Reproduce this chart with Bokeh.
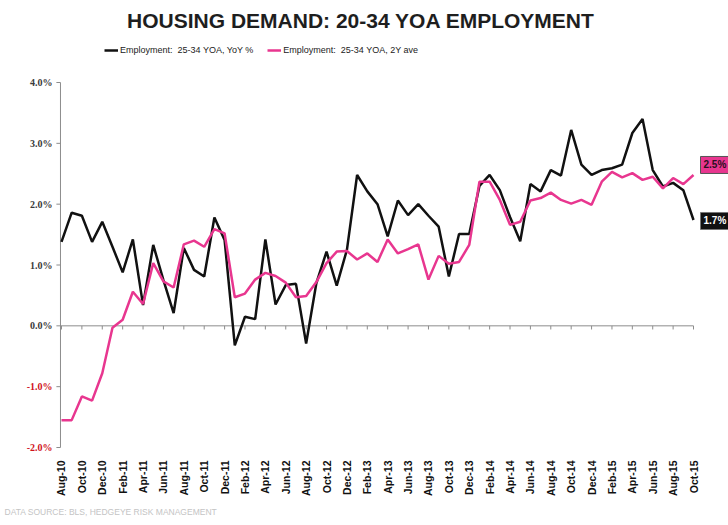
import math
import pandas as pd
from bokeh.plotting import figure
from bokeh.models import (Range1d, FixedTicker, Label, LabelSet, Title,
                          ColumnDataSource, Legend, LegendItem)
from bokeh.embed import file_html
from bokeh.resources import INLINE

# ---------------- data ----------------
months = list(pd.date_range("2010-08-01", periods=63, freq="MS").strftime("%b-%y"))

employment_yoy = [1.38, 1.86, 1.81, 1.38, 1.71, 1.30, 0.88, 1.42, 0.34, 1.33,
                  0.75, 0.21, 1.28, 0.92, 0.81, 1.78, 1.41, -0.32, 0.15, 0.11,
                  1.42, 0.35, 0.67, 0.69, -0.29, 0.70, 1.22, 0.66, 1.25, 2.48,
                  2.21, 2.00, 1.47, 2.06, 1.82, 2.00, 1.81, 1.63, 0.81, 1.51,
                  1.51, 2.30, 2.48, 2.23, 1.79, 1.39, 2.33, 2.21, 2.56, 2.47,
                  3.22, 2.65, 2.48, 2.56, 2.59, 2.65, 3.17, 3.40, 2.56, 2.29,
                  2.35, 2.23, 1.74]

employment_2y = [-1.55, -1.55, -1.16, -1.23, -0.78, -0.03, 0.10, 0.56, 0.36, 1.03,
                 0.73, 0.63, 1.34, 1.40, 1.30, 1.59, 1.52, 0.47, 0.53, 0.76,
                 0.87, 0.82, 0.71, 0.47, 0.49, 0.72, 1.03, 1.22, 1.23, 1.09,
                 1.19, 1.05, 1.42, 1.19, 1.26, 1.34, 0.76, 1.15, 1.02, 1.05,
                 1.33, 2.37, 2.37, 2.07, 1.66, 1.71, 2.06, 2.10, 2.19, 2.07,
                 2.01, 2.07, 1.99, 2.37, 2.53, 2.44, 2.51, 2.40, 2.45, 2.26,
                 2.43, 2.33, 2.48]

y_ticks = [-2, -1, 0, 1, 2, 3, 4]
y_tick_labels = ["-2.0%", "-1.0%", "0.0%", "1.0%", "2.0%", "3.0%", "4.0%"]

title_text = "HOUSING DEMAND:  20-34 YOA EMPLOYMENT"
series_names = ["Employment:  25-34 YOA, YoY %", "Employment:  25-34 YOA, 2Y ave"]
source_text = "DATA SOURCE: BLS, HEDGEYE RISK MANAGEMENT"

# ---------------- styling ----------------
BLACK = "#111111"
PINK = "#e8368f"
GRAY = "#8c8c8c"
SANS = "Liberation Sans"

idx = list(range(len(months)))
label_idx = idx[::2]

W, H = 728, 525
# frame spans the full width; the value axis is drawn at x = AX
X0, X1 = -5.984, 65.433
Y0, Y1 = -2.0986, 5.348
AX = -0.1

p = figure(width=W, height=H, output_backend="svg", toolbar_location=None,
           x_range=Range1d(X0, X1), y_range=Range1d(Y0, Y1),
           min_border_left=0, min_border_right=0, min_border_top=0,
           min_border_bottom=72)
p.outline_line_color = None
p.grid.grid_line_color = None
p.background_fill_color = "white"
p.border_fill_color = "white"
p.yaxis.visible = False

# category axis (labels at bottom)
p.xaxis.ticker = FixedTicker(ticks=label_idx)
p.xaxis.major_label_overrides = {i: months[i] for i in label_idx}
p.xaxis.major_label_orientation = math.pi / 2
p.xaxis.major_label_text_font = SANS
p.xaxis.major_label_text_font_style = "bold"
p.xaxis.major_label_text_font_size = "10.5px"
p.xaxis.major_label_text_color = "#111111"
p.xaxis.axis_line_color = None
p.xaxis.major_tick_line_color = None
p.xaxis.minor_tick_line_color = None
p.xaxis.major_label_standoff = 1

# value axis: line, ticks and coloured labels
p.line([AX, AX], [min(y_ticks), max(y_ticks)], line_color=GRAY, line_width=1)
p.segment(x0=[AX] * len(y_ticks), y0=y_ticks, x1=[AX - 0.4] * len(y_ticks),
          y1=y_ticks, line_color=GRAY, line_width=1)
ylab_src = ColumnDataSource(dict(
    x=[AX] * len(y_ticks), y=y_ticks, text=y_tick_labels,
    color=["#d0121b" if v < 0 else "#3a3a3a" for v in y_ticks]))
p.add_layout(LabelSet(x="x", y="y", text="text", source=ylab_src, x_offset=-8,
                      text_align="right", text_baseline="middle",
                      text_color="color", text_font=SANS,
                      text_font_style="bold", text_font_size="10px"))

# zero line with tick marks
p.line([AX, idx[-1]], [0, 0], line_color=GRAY, line_width=1)
p.segment(x0=label_idx, y0=[0] * len(label_idx), x1=label_idx,
          y1=[-0.06] * len(label_idx), line_color=GRAY, line_width=1)

# series
rb = p.line(idx, employment_yoy, line_color=BLACK, line_width=2.5)
rp = p.line(idx, employment_2y, line_color=PINK, line_width=2.5)

legend = Legend(items=[LegendItem(label=series_names[0], renderers=[rb]),
                       LegendItem(label=series_names[1], renderers=[rp])],
                location=(104, 396), orientation="horizontal",
                glyph_width=14, glyph_height=14, label_height=14,
                label_standoff=2, spacing=14, padding=0, margin=0,
                border_line_color=None, background_fill_alpha=0,
                label_text_font=SANS, label_text_font_size="9px",
                label_text_color="#222222")
p.add_layout(legend)

# title
p.add_layout(Label(x=29.67, y=5.02, text=title_text, text_align="center",
                   text_baseline="middle", text_font=SANS,
                   text_font_style="bold", text_font_size="21px",
                   text_color="#1e1e1e"))

# footer
p.add_layout(Title(text=source_text, align="left", text_font=SANS,
                   text_font_size="8.5px", text_font_style="normal",
                   text_color="#c4c4c4", offset=4, standoff=10), "below")

# end-point value boxes
last = idx[-1]
p.add_layout(Label(x=last, y=employment_2y[-1], text=f"{employment_2y[-1]:.1f}%",
                   x_offset=7, y_offset=10, text_baseline="middle",
                   text_font=SANS, text_font_style="bold", text_font_size="10px",
                   text_color="#2a1020", background_fill_color=PINK,
                   border_line_color="#555555", border_line_width=1, padding=3))
p.add_layout(Label(x=last, y=employment_yoy[-1], text=f"{employment_yoy[-1]:.1f}%",
                   x_offset=7, y_offset=-1, text_baseline="middle",
                   text_font=SANS, text_font_style="bold", text_font_size="10px",
                   text_color="white", background_fill_color="#111111",
                   border_line_color="#777777", border_line_width=1, padding=3))

open("out.html", "w").write(file_html(p, INLINE))
